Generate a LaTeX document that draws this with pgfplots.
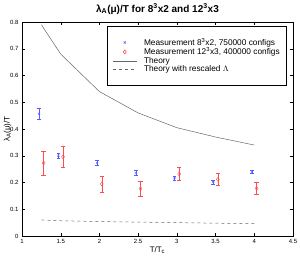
\documentclass[border=0pt]{standalone}
\usepackage{fontspec}
\setmainfont{Liberation Sans}
\usepackage{pgfplots}
\pgfplotsset{compat=1.18}
\definecolor{mblue}{rgb}{0.35,0.35,1}
\definecolor{mred}{rgb}{1,0.3,0.3}
\definecolor{tgray}{rgb}{0.4,0.4,0.4}
\begin{document}
\begin{tikzpicture}
\begin{axis}[
  name=ax, at={(0,0)}, anchor=south west,
  scale only axis, width=271pt, height=214pt,
  xmin=1, xmax=4.5, ymin=0, ymax=0.8,
  xtick={1,1.5,2,2.5,3,3.5,4,4.5},
  xticklabels={1,1.5,2,2.5,3,3.5,4,4.5},
  ytick={0,0.1,0.2,0.3,0.4,0.5,0.6,0.7,0.8},
  yticklabels={0,0.1,0.2,0.3,0.4,0.5,0.6,0.7,0.8},
  tick align=inside, tick pos=both,
  major tick length=3pt,
  tick style={black, line width=0.4pt},
  axis line style={black, line width=0.5pt},
  ticklabel style={font=\fontsize{6}{6.5}\selectfont},
  /pgf/number format/assume math mode=true,
  xlabel={T/T\textsubscript{c}},
  ylabel={λ\textsubscript{A}(μ)/T},
  label style={font=\fontsize{8}{8.5}\selectfont},
  xlabel style={yshift=4pt},
  ylabel style={yshift=-8pt},
  title={\bfseries λ\textsubscript{A}(μ)/T for 8\textsuperscript{3}x2 and 12\textsuperscript{3}x3},
  title style={font=\fontsize{10}{11}\selectfont, yshift=-2pt},
  legend image code/.code={\draw[mark repeat=2,mark phase=2,#1]
    plot coordinates {(0cm,0cm) (0.42cm,0cm) (0.84cm,0cm)};},
  legend style={at={(1,1)}, anchor=north east, xshift=-6pt, yshift=-4pt,
    font=\fontsize{8.3}{8.5}\selectfont, draw=black, line width=0.6pt,
    inner xsep=5pt, inner ysep=10pt, row sep=-3pt,
    /tikz/every odd column/.append style={column sep=5pt}},
  legend cell align=left,
]
\addplot[only marks, mark=x, mark size=1.5pt, color=mblue,
  error bars/.cd, y dir=both, y explicit,
  error mark options={rotate=90, mark size=1.8pt, line width=0.5pt}]
  table[x=x, y=y, y error=e] {
x y e
1.22 0.457 0.019
1.47 0.300 0.010
1.97 0.273 0.010
2.47 0.236 0.009
2.97 0.217 0.007
3.47 0.202 0.007
3.97 0.240 0.006
};
\addlegendentry{Measurement 8\textsuperscript{3}x2, 750000 configs}
\addplot[only marks, mark=diamond, mark size=2pt, color=mred,
  error bars/.cd, y dir=both, y explicit,
  error mark options={rotate=90, mark size=2.2pt, line width=0.5pt}]
  table[x=x, y=y, y error=e] {
x y e
1.28 0.273 0.045
1.53 0.296 0.038
2.03 0.195 0.030
2.53 0.177 0.028
3.03 0.232 0.024
3.53 0.212 0.022
4.03 0.178 0.022
};
\addlegendentry{Measurement 12\textsuperscript{3}x3, 400000 configs}
\addplot[tgray, line width=0.5pt, no marks] coordinates {
(1.25,0.79) (1.5,0.68) (2,0.54) (2.5,0.46) (3,0.405) (3.5,0.37) (4,0.34)
};
\addlegendentry{Theory}
\addplot[tgray, line width=0.5pt, dashed, no marks] coordinates {
(1.25,0.060) (1.5,0.057) (2,0.054) (2.5,0.052) (3,0.050) (3.5,0.048) (4,0.046)
};
\addlegendentry{Theory with rescaled $\Lambda$}
\end{axis}
\pgfresetboundingbox
\path (ax.south west) ++(-22pt,-23pt) rectangle ++(300pt,259pt);
\end{tikzpicture}
\end{document}
